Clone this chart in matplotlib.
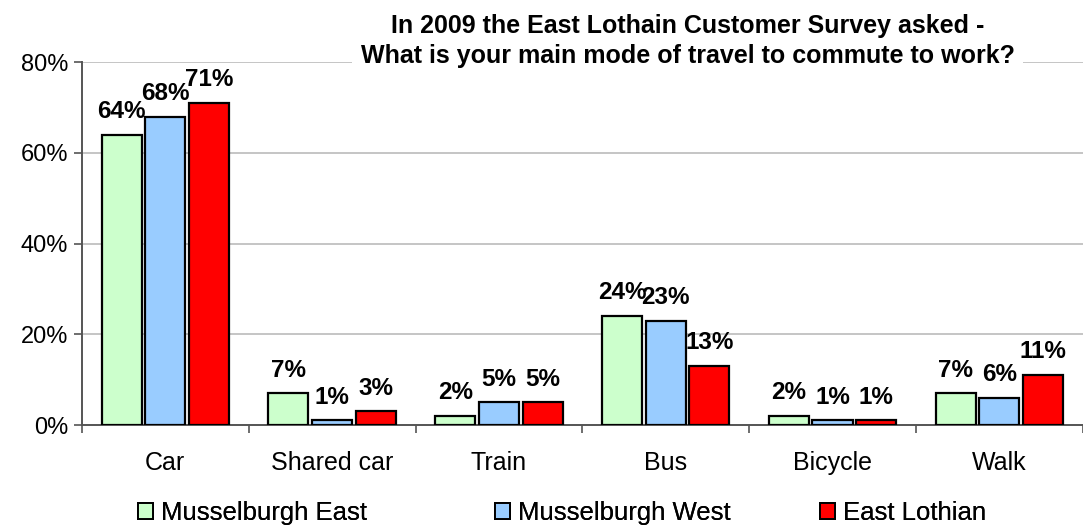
import matplotlib
matplotlib.use("Agg")
import matplotlib.pyplot as plt
import numpy as np
from matplotlib.patches import Patch

plt.rcParams['font.family'] = ['Liberation Sans', 'DejaVu Sans']

categories = ["Car", "Shared car", "Train", "Bus", "Bicycle", "Walk"]
series_names = ["Musselburgh East", "Musselburgh West", "East Lothian"]
musselburgh_east = [64, 7, 2, 24, 2, 7]
musselburgh_west = [68, 1, 5, 23, 1, 6]
east_lothian = [71, 3, 5, 13, 1, 11]
y_ticks = [0, 20, 40, 60, 80]
y_tick_labels = ["0%", "20%", "40%", "60%", "80%"]
title = "In 2009 the East Lothain Customer Survey asked -\nWhat is your main mode of travel to commute to work?"

colors = ["#CCFFCC", "#99CCFF", "#FF0000"]
series = [musselburgh_east, musselburgh_west, east_lothian]

fig = plt.figure(figsize=(10.83, 5.26), dpi=100)
ax = fig.add_axes([0.0757, 0.192, 0.924, 0.690])

x = np.arange(len(categories))
w = 0.24
step = 0.262
for i, (vals, c) in enumerate(zip(series, colors)):
    pos = x + (i - 1) * step
    ax.bar(pos, vals, width=w, color=c, edgecolor="black", linewidth=1.6, zorder=3)
    for xp, v in zip(pos, vals):
        ax.annotate(f"{v}%", (xp, v), xytext=(0, 12), textcoords="offset points",
                    ha="center", va="baseline", fontsize=17.5, fontweight="bold", zorder=4)

ax.set_xlim(-0.5, len(categories) - 0.5)
ax.set_ylim(0, 80)
ax.set_yticks(y_ticks)
ax.set_yticklabels(y_tick_labels, fontsize=17)
ax.set_xticks(x)
ax.set_xticklabels(categories, fontsize=18)
ax.set_xticks(np.arange(len(categories) + 1) - 0.5, minor=True)
ax.tick_params(axis="x", which="major", length=0, pad=19)
ax.tick_params(axis="x", which="minor", length=6, width=1.2, color="#555555", direction="out")
ax.tick_params(axis="y", length=6, width=1.2, color="#555555", direction="out", pad=4)

ax.grid(axis="y", color="#BBBBBB", linewidth=1.2, zorder=0)
ax.set_axisbelow(True)
for s in ["top", "right"]:
    ax.spines[s].set_visible(False)
ax.spines["left"].set_color("#555555")
ax.spines["left"].set_linewidth(1.4)
ax.spines["bottom"].set_color("#555555")
ax.spines["bottom"].set_linewidth(1.4)

fig.text(0.635, 0.973, title, ha="center", va="top", fontsize=18, fontweight="bold",
         linespacing=1.3, bbox=dict(facecolor="white", edgecolor="none", pad=6))

legend_x = [0.127, 0.457, 0.757]
for name, c, lx in zip(series_names, colors, legend_x):
    h = Patch(facecolor=c, edgecolor="black", linewidth=1.4)
    lg = fig.legend([h], [name], loc="center left", bbox_to_anchor=(lx, 0.024),
                    frameon=False, fontsize=18.5, handlelength=0.6, handleheight=0.6,
                    handletextpad=0.3, borderpad=0, borderaxespad=0)
    fig.add_artist(lg)

fig.savefig("out.png", dpi=100)
